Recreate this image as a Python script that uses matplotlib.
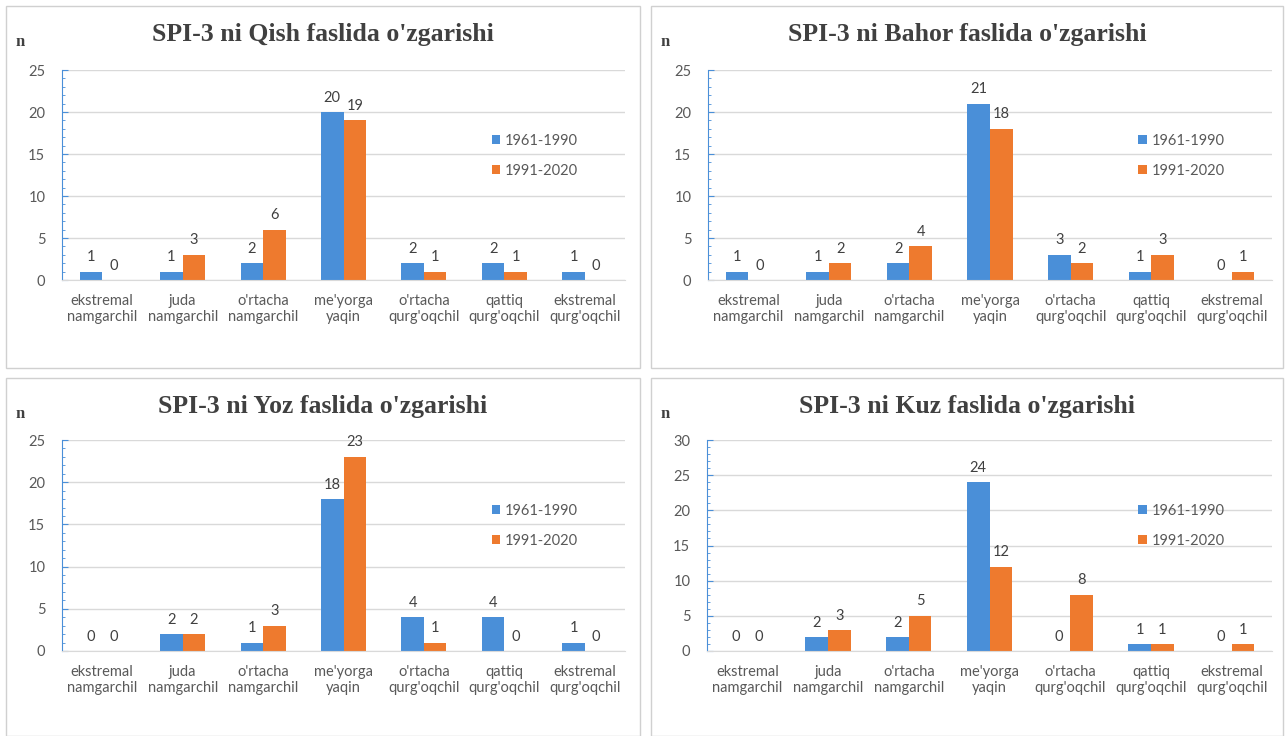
import matplotlib
matplotlib.use("Agg")
import matplotlib.pyplot as plt
import numpy as np
from matplotlib.patches import Rectangle
from matplotlib.ticker import MultipleLocator

# data
categories = ["ekstremal\nnamgarchil", "juda\nnamgarchil", "o'rtacha\nnamgarchil",
              "me'yorga\nyaqin", "o'rtacha\nqurg'oqchil", "qattiq\nqurg'oqchil",
              "ekstremal\nqurg'oqchil"]
series_names = ["1961-1990", "1991-2020"]
seasons = ["Qish", "Bahor", "Yoz", "Kuz"]

qish_old = [1, 1, 2, 20, 2, 2, 1]
qish_new = [0, 3, 6, 19, 1, 1, 0]
bahor_old = [1, 1, 2, 21, 3, 1, 0]
bahor_new = [0, 2, 4, 18, 2, 3, 1]
yoz_old = [0, 2, 1, 18, 4, 4, 1]
yoz_new = [0, 2, 3, 23, 1, 0, 0]
kuz_old = [0, 2, 2, 24, 0, 1, 0]
kuz_new = [0, 3, 5, 12, 8, 1, 1]
y_max = [25, 25, 25, 30]

blue = "#4a8fd8"
orange = "#ee7a2e"
W, H = 1287, 736

fig = plt.figure(figsize=(W / 100, H / 100), dpi=100)
fig.patch.set_facecolor("white")

tick_font = ["Lato", "DejaVu Sans"]
title_font = ["Liberation Serif", "DejaVu Serif"]
fs = 10.5

def px(x0, y0, w, h):
    return [x0 / W, 1 - (y0 + h) / H, w / W, h / H]

# panel boxes (left, top, right, bottom) in pixels
panels = [(6, 6, 640, 368), (651, 6, 1283, 368), (6, 378, 640, 736), (651, 378, 1283, 736)]
axes_px = [(62, 70, 625, 280), (708, 70, 1272, 280), (62, 440, 625, 651), (707, 440, 1272, 651)]
data = [(qish_old, qish_new), (bahor_old, bahor_new), (yoz_old, yoz_new), (kuz_old, kuz_new)]

x = np.arange(len(categories))
bw = 0.28

for i in range(4):
    l, t, r, b = panels[i]
    fig.patches.append(Rectangle((l / W, 1 - b / H), (r - l) / W, (b - t) / H,
                                 transform=fig.transFigure, fill=False,
                                 edgecolor="#d0d0d0", linewidth=1))
    al, at, ar, ab = axes_px[i]
    ax = fig.add_axes(px(al, at, ar - al, ab - at))
    old, new = data[i]
    ax.bar(x - bw / 2, old, bw, color=blue, label=series_names[0])
    ax.bar(x + bw / 2, new, bw, color=orange, label=series_names[1])
    off = y_max[i] * 0.035
    for j in range(len(x)):
        ax.text(x[j] - bw / 2, old[j] + off, str(old[j]), ha="center", va="bottom",
                fontsize=fs, color="#404040", family=tick_font)
        ax.text(x[j] + bw / 2, new[j] + off, str(new[j]), ha="center", va="bottom",
                fontsize=fs, color="#404040", family=tick_font)
    ax.set_xlim(-0.5, len(x) - 0.5)
    ax.set_ylim(0, y_max[i])
    ax.yaxis.set_major_locator(MultipleLocator(5))
    ax.yaxis.set_minor_locator(MultipleLocator(1))
    ax.grid(axis="y", color="#d9d9d9", linewidth=1)
    ax.set_axisbelow(True)
    for s in ["top", "right"]:
        ax.spines[s].set_visible(False)
    ax.spines["left"].set_color(blue)
    ax.spines["bottom"].set_color("#d9d9d9")
    ax.tick_params(axis="y", which="major", direction="in", length=4, color=blue,
                   labelcolor="#595959", labelsize=fs, pad=12)
    ax.tick_params(axis="y", which="minor", direction="in", length=2.5, color=blue)
    ax.tick_params(axis="x", length=0, labelcolor="#595959", labelsize=fs, pad=10)
    ax.set_xticks(x)
    ax.set_xticklabels(categories, family=tick_font)
    for lab in ax.get_yticklabels():
        lab.set_family(tick_font)
    leg = ax.legend(loc="upper left", bbox_to_anchor=(0.74, 0.76), frameon=False,
                    handlelength=0.6, handleheight=0.6, handletextpad=0.3,
                    labelspacing=1.1, prop={"family": tick_font, "size": fs})
    for txt in leg.get_texts():
        txt.set_color("#595959")
    cx = (l + r) / 2
    fig.text(cx / W, 1 - (t + 29) / H, "SPI-3 ni %s faslida o'zgarishi" % seasons[i],
             ha="center", va="center", fontsize=18.5, fontweight="bold",
             color="#404040", family=title_font)
    fig.text((l + 14) / W, 1 - (t + 36) / H, "n", ha="center", va="center",
             fontsize=12, fontweight="bold", color="#404040", family=title_font)

fig.savefig("out.png", dpi=100)
